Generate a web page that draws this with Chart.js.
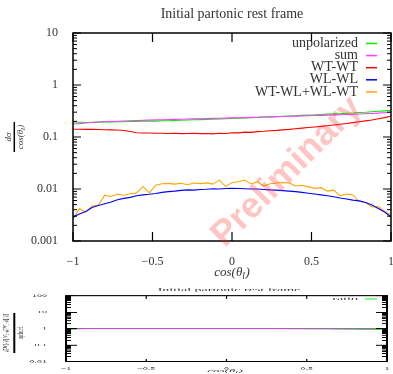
<!DOCTYPE html>
<html><head><meta charset="utf-8">
<script src="https://cdn.jsdelivr.net/npm/chart.js@4/dist/chart.umd.min.js"></script>
<style>
html,body{margin:0;padding:0;background:#fff;width:393px;height:374px;overflow:hidden;}
#top{position:absolute;left:0;top:0;}
#bot{position:absolute;left:0;top:284px;transform-origin:0 0;transform:scaleY(0.318);}
</style></head><body>
<canvas id="top" width="393" height="284"></canvas>
<canvas id="bot" width="393" height="283"></canvas>
<script>
const cosTheta = [-1,-0.96,-0.92,-0.88,-0.84,-0.8,-0.76,-0.72,-0.68,-0.64,-0.6,-0.56,-0.52,-0.48,-0.44,-0.4,-0.36,-0.32,-0.28,-0.24,-0.2,-0.16,-0.12,-0.08,-0.04,0,0.04,0.08,0.12,0.16,0.2,0.24,0.28,0.32,0.36,0.4,0.44,0.48,0.52,0.56,0.6,0.64,0.68,0.72,0.76,0.8,0.84,0.88,0.92,0.96,1];
const unpolarized = [0.194,0.192,0.190,0.192,0.193,0.195,0.194,0.197,0.196,0.199,0.198,0.201,0.203,0.202,0.206,0.205,0.209,0.210,0.212,0.214,0.216,0.217,0.221,0.222,0.225,0.228,0.230,0.233,0.236,0.238,0.242,0.244,0.247,0.250,0.254,0.257,0.260,0.264,0.266,0.270,0.275,0.278,0.281,0.286,0.290,0.296,0.300,0.306,0.312,0.318,0.325];
const sumPolarized = [0.178,0.181,0.186,0.190,0.194,0.197,0.199,0.201,0.203,0.205,0.207,0.209,0.211,0.213,0.215,0.217,0.218,0.220,0.222,0.223,0.225,0.226,0.228,0.230,0.231,0.233,0.235,0.236,0.238,0.240,0.242,0.244,0.246,0.248,0.250,0.252,0.255,0.257,0.259,0.261,0.263,0.266,0.268,0.271,0.274,0.277,0.280,0.284,0.288,0.293,0.298];
const wtwt = [0.141,0.141,0.140,0.140,0.139,0.138,0.137,0.136,0.133,0.128,0.121,0.119,0.119,0.118,0.118,0.117,0.118,0.116,0.117,0.118,0.116,0.117,0.115,0.118,0.117,0.121,0.120,0.124,0.123,0.127,0.129,0.132,0.134,0.137,0.140,0.144,0.148,0.152,0.156,0.160,0.165,0.170,0.176,0.182,0.189,0.196,0.204,0.213,0.224,0.236,0.252];
const wlwl = [0.0029,0.0033,0.0037,0.0044,0.0048,0.0052,0.0056,0.0062,0.0066,0.0069,0.0074,0.0077,0.0079,0.0082,0.0086,0.0089,0.0091,0.0094,0.0096,0.0095,0.0098,0.0099,0.0101,0.0100,0.0102,0.0103,0.0102,0.0101,0.0100,0.0100,0.0098,0.0096,0.0095,0.0093,0.0091,0.0089,0.0086,0.0083,0.0080,0.0077,0.0074,0.0071,0.0067,0.0064,0.0061,0.0059,0.0055,0.0049,0.0042,0.0036,0.0029];
const wtwlPlusWlwt = [0.0026,0.0042,0.0036,0.0047,0.0049,0.0076,0.0072,0.0079,0.0076,0.0081,0.0084,0.0112,0.0084,0.0118,0.0126,0.0128,0.0124,0.0129,0.0121,0.0130,0.0127,0.0131,0.0124,0.0148,0.0111,0.0133,0.0138,0.0149,0.0125,0.0138,0.0114,0.0126,0.0130,0.0133,0.0131,0.0114,0.0118,0.0110,0.0103,0.0106,0.0091,0.0095,0.0074,0.0080,0.0077,0.0058,0.0055,0.0045,0.0046,0.0037,0.0032];
const ratio = [0.93,0.94,0.97,0.99,1.00,1.01,1.02,1.02,1.03,1.03,1.04,1.04,1.04,1.05,1.04,1.05,1.04,1.05,1.05,1.04,1.04,1.04,1.03,1.04,1.03,1.02,1.02,1.01,1.01,1.01,1.00,1.00,1.00,0.99,0.99,0.98,0.98,0.97,0.97,0.97,0.96,0.96,0.95,0.95,0.94,0.94,0.93,0.93,0.92,0.92,0.92];
const refX = [-1, 1];
const refY = [1, 1];
const seriesLabels = ['unpolarized','sum','WT-WT','WL-WL','WT-WL+WL-WT'];
const seriesColors = ['#00ee00','#ff3cff','#ff0000','#0000ff','#ffa500'];
const xTickValues = [-1,-0.5,0,0.5,1];
const xTickLabels = ['\u22121','\u22120.5','0','0.5','1'];
const yTickValues = [0.001,0.01,0.1,1,10];
const yTickLabels = ['0.001','0.01','0.1','1','10'];
const rTickValues = [0.01,0.1,1,10,100];
const rTickLabels = ['0.01','0.1','1','10','100'];
const titleText = 'Initial partonic rest frame';

const SERIF = '"Liberation Serif", "DejaVu Serif", serif';
const TXT = '#333';

function pts(xs, ys){ return xs.map((x,i)=>({x:x, y:ys[i]})); }

function drawCos(ctx, x, y, size){
  const f = 'italic '+size+'px '+SERIF, fs = 'italic '+(size*0.72).toFixed(1)+'px '+SERIF;
  ctx.font=f; const w1=ctx.measureText('cos(\u03b8').width, w3=ctx.measureText(')').width;
  ctx.font=fs; const w2=ctx.measureText('l').width+0.5;
  let sx = x-(w1+w2+w3)/2;
  ctx.textAlign='left'; ctx.textBaseline='middle';
  ctx.font=f; ctx.fillText('cos(\u03b8', sx, y);
  ctx.font=fs; ctx.fillText('l', sx+w1, y+size*0.28);
  ctx.font=f; ctx.fillText(')', sx+w1+w2, y);
}

function decoPlugin(o){
  return {
    id:'deco'+o.name,
    afterDraw(chart){
      const ctx=chart.ctx, a=chart.chartArea, xs=chart.scales.x, ys=chart.scales.y;
      ctx.save();
      ctx.strokeStyle='#000'; ctx.lineWidth=o.tickW;
      const lo=Math.log10(ys.min), hi=Math.log10(ys.max);
      ctx.beginPath();
      for(let e=lo;e<=hi;e++){
        for(let m=1;m<=9;m++){
          const v=m*Math.pow(10,e); if(v>ys.max*1.0001) break;
          const py=ys.getPixelForValue(v); const len=(m===1)?o.major:o.minor;
          ctx.moveTo(a.left,py); ctx.lineTo(a.left+len,py);
          ctx.moveTo(a.right,py); ctx.lineTo(a.right-len,py);
        }
      }
      ctx.stroke();
      ctx.lineWidth=o.xTickW; ctx.beginPath();
      xTickValues.forEach(v=>{const px=xs.getPixelForValue(v);
        ctx.moveTo(px,a.bottom); ctx.lineTo(px,a.bottom-o.xMajor);
        ctx.moveTo(px,a.top); ctx.lineTo(px,a.top+o.xMajor);});
      ctx.stroke();
      ctx.lineWidth=o.frameV; ctx.beginPath();
      ctx.moveTo(a.left,a.top); ctx.lineTo(a.left,a.bottom);
      ctx.moveTo(a.right,a.top); ctx.lineTo(a.right,a.bottom); ctx.stroke();
      ctx.lineWidth=o.frameH; ctx.beginPath();
      ctx.moveTo(a.left-o.frameV/2,a.top); ctx.lineTo(a.right+o.frameV/2,a.top);
      ctx.moveTo(a.left-o.frameV/2,a.bottom); ctx.lineTo(a.right+o.frameV/2,a.bottom); ctx.stroke();
      ctx.fillStyle=TXT; ctx.textAlign='center'; ctx.textBaseline='middle';
      ctx.font='14px '+SERIF; ctx.fillText(titleText, o.titleX, o.titleY);
      drawCos(ctx, o.xtX, o.xtY, 13);
      o.legend.forEach((it,i)=>{
        const y=o.legY+i*o.legDy;
        ctx.fillStyle=TXT; ctx.font='14px '+SERIF; ctx.textAlign='right'; ctx.textBaseline='middle';
        ctx.fillText(it.label, o.legTextR, y);
        ctx.strokeStyle=it.color; ctx.lineWidth=o.legLW; ctx.beginPath();
        ctx.moveTo(o.legL0,y); ctx.lineTo(o.legL1,y); ctx.stroke();
      });
      ctx.translate(o.fracX,o.fracY); ctx.rotate(-Math.PI/2);
      ctx.fillStyle=TXT; ctx.textAlign='center'; ctx.textBaseline='middle';
      if(o.name==='top'){
        ctx.font='italic 9px '+SERIF; ctx.fillText('d\u03c3',0,-6);
        drawCos(ctx,0,6,9);
      } else {
        ctx.font='8px '+SERIF; ctx.fillText('WT-WT+WL-WL+WT-WL+WL-WT',0,-7);
        ctx.fillText('unpolarized',0,7);
      }
      ctx.strokeStyle='#000'; ctx.lineWidth=o.fracW; ctx.beginPath();
      ctx.moveTo(-o.fracL/2,0); ctx.lineTo(o.fracL/2,0); ctx.stroke();
      ctx.restore();
      if(o.name==='top'){
        ctx.save();
        ctx.translate(287,172); ctx.rotate(-45*Math.PI/180);
        ctx.fillStyle='rgba(255,40,40,0.27)';
        ctx.font='bold 36px "Liberation Sans", Arial, sans-serif';
        ctx.textAlign='center'; ctx.textBaseline='middle';
        ctx.fillText('Preliminary',0,0);
        ctx.restore();
      }
    }
  };
}

function xScale(fontSize,pad,h){
  return {type:'linear',min:-1,max:1,
    grid:{display:false},border:{display:false},
    afterBuildTicks:s=>{s.ticks=xTickValues.map(v=>({value:v}));},
    afterFit:s=>{s.height=h; s.paddingLeft=0; s.paddingRight=0;},
    ticks:{padding:pad,maxRotation:0,autoSkip:false,color:TXT,font:{family:SERIF,size:fontSize},
      callback:(v)=>{const i=xTickValues.indexOf(v);return i>=0?xTickLabels[i]:'';}}};
}
function yScale(min,max,vals,labels,fontSize,width,pad){
  return {type:'logarithmic',min:min,max:max,
    grid:{display:false},border:{display:false},
    afterBuildTicks:s=>{s.ticks=vals.map(v=>({value:v}));},
    afterFit:s=>{s.width=width; s.paddingTop=0; s.paddingBottom=0;},
    ticks:{padding:pad,autoSkip:false,color:TXT,font:{family:SERIF,size:fontSize},
      callback:(v)=>{const i=vals.findIndex(t=>Math.abs(t-v)/t<1e-6);return i>=0?labels[i]:'';}}};
}

const drawOrder=[4,3,2,0,1];
const topData = {datasets:[unpolarized,sumPolarized,wtwt,wlwl,wtwlPlusWlwt].map((arr,i)=>({
  label:seriesLabels[i],data:pts(cosTheta,arr),borderColor:seriesColors[i],borderWidth:1.1,
  pointRadius:0,tension:0,fill:false,order:drawOrder[i]}))};

new Chart(document.getElementById('top'),{
  type:'line',data:topData,
  options:{responsive:false,animation:false,devicePixelRatio:1,
    layout:{padding:{left:0,right:2,top:33,bottom:0}},
    plugins:{legend:{display:false},tooltip:{enabled:false},title:{display:false}},
    scales:{x:xScale(12,6,284-241),y:yScale(0.001,10,yTickValues,yTickLabels,12,73,7)}},
  plugins:[decoPlugin({name:'top',tickW:1,major:8,minor:4,xTickW:1.2,xMajor:9,frameV:1.5,frameH:1.5,
    titleX:232,titleY:14,xtX:232,xtY:273,
    legend:seriesLabels.map((l,i)=>({label:l,color:seriesColors[i]})),
    legY:43.5,legDy:12.1,legTextR:358,legL0:366,legL1:377,legLW:1.5,
    fracX:14.3,fracY:137,fracW:1.5,fracL:30})]
});

new Chart(document.getElementById('bot'),{
  type:'line',
  data:{datasets:[
    {label:'ref',data:pts(refX,refY),borderColor:'#c050d0',borderWidth:3.5,pointRadius:0,order:0},
    {label:'ratio',data:pts(cosTheta,ratio),borderColor:'#00ee00',borderWidth:3,pointRadius:0,order:1}
  ]},
  options:{responsive:false,animation:false,devicePixelRatio:1,
    layout:{padding:{left:0,right:6,top:37,bottom:0}},
    plugins:{legend:{display:false},tooltip:{enabled:false},title:{display:false}},
    scales:{x:xScale(10,8,283-244),y:yScale(0.01,100,rTickValues,rTickLabels,10,66,11)}},
  plugins:[decoPlugin({name:'bot',tickW:3,major:11,minor:5,xTickW:1.2,xMajor:9,frameV:2,frameH:3.5,
    titleX:229,titleY:19,xtX:225,xtY:274,
    legend:[{label:'ratio',color:'#00ee00'}],
    legY:47,legDy:12,legTextR:358,legL0:365,legL1:377,legLW:3,
    fracX:14.3,fracY:154,fracW:2,fracL:128})]
});
</script>
</body></html>
